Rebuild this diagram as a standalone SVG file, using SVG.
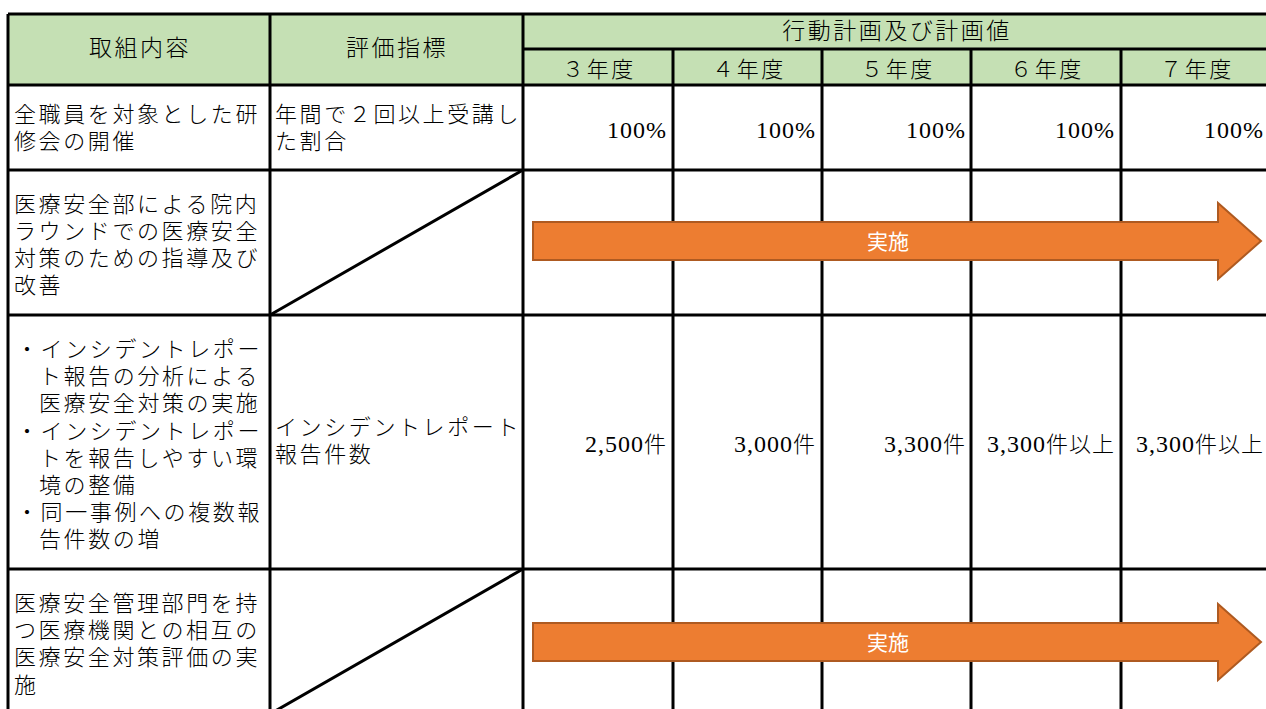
<svg xmlns="http://www.w3.org/2000/svg" width="1266" height="709" viewBox="0 0 1266 709">
<style>
.t{font-family:"Liberation Serif","Noto Sans CJK JP",serif;font-size:22px;font-weight:300;fill:#000;letter-spacing:2.6px}
.h{font-family:"Noto Sans CJK JP",sans-serif;font-size:23px;font-weight:300;fill:#000;letter-spacing:2.5px}
.c{text-anchor:middle}
.n{font-family:"Liberation Serif",serif;font-size:24px;font-weight:normal;fill:#000;text-anchor:end;letter-spacing:1px}
.n tspan{font-family:"Noto Sans CJK JP",sans-serif;font-size:22px;font-weight:300}
.g{stroke:#000;stroke-width:3;fill:none}
.ar{fill:#ED7D31;stroke:#AE5A21;stroke-width:2}
.at{font-family:"Noto Sans CJK JP",sans-serif;font-size:21px;fill:#fff;text-anchor:middle}
</style>
<rect width="1266" height="709" fill="#fff"/>
<g id="header">
<rect x="8" y="14" width="1260" height="71" fill="#C5E0B4"/>
<text class="h c" x="140" y="56">取組内容</text>
<text class="h c" x="397" y="56">評価指標</text>
<text class="h c" x="897" y="39">行動計画及び計画値</text>
<text class="t c" x="599" y="77">３年度</text>
<text class="t c" x="749" y="77">４年度</text>
<text class="t c" x="898" y="77">５年度</text>
<text class="t c" x="1047" y="77">６年度</text>
<text class="t c" x="1197" y="77">７年度</text>
</g>
<g id="row1">
<text class="t" x="14" y="122">全職員を対象とした研</text>
<text class="t" x="14" y="149">修会の開催</text>
<text class="t" x="275" y="122">年間で２回以上受講し</text>
<text class="t" x="275" y="149">た割合</text>
<text class="n" x="667" y="138">100%</text>
<text class="n" x="816" y="138">100%</text>
<text class="n" x="966" y="138">100%</text>
<text class="n" x="1115" y="138">100%</text>
<text class="n" x="1264" y="138">100%</text>
</g>
<g id="row2">
<text class="t" x="14" y="212">医療安全部による院内</text>
<text class="t" x="14" y="239">ラウンドでの医療安全</text>
<text class="t" x="14" y="266">対策のための指導及び</text>
<text class="t" x="14" y="293">改善</text>
</g>
<g id="row3">
<text class="t" x="16" y="357">・インシデントレポー</text>
<text class="t" x="39" y="384">ト報告の分析による</text>
<text class="t" x="39" y="411">医療安全対策の実施</text>
<text class="t" x="16" y="439">・インシデントレポー</text>
<text class="t" x="39" y="466">トを報告しやすい環</text>
<text class="t" x="39" y="493">境の整備</text>
<text class="t" x="16" y="520">・同一事例への複数報</text>
<text class="t" x="39" y="547">告件数の増</text>
<text class="t" x="275" y="435">インシデントレポート</text>
<text class="t" x="275" y="462">報告件数</text>
<text class="n" x="667" y="452">2,500<tspan>件</tspan></text>
<text class="n" x="816" y="452">3,000<tspan>件</tspan></text>
<text class="n" x="966" y="452">3,300<tspan>件</tspan></text>
<text class="n" x="1115" y="452">3,300<tspan>件以上</tspan></text>
<text class="n" x="1264" y="452">3,300<tspan>件以上</tspan></text>
</g>
<g id="row4">
<text class="t" x="14" y="611">医療安全管理部門を持</text>
<text class="t" x="14" y="638">つ医療機関との相互の</text>
<text class="t" x="14" y="665">医療安全対策評価の実</text>
<text class="t" x="14" y="693">施</text>
</g>
<g id="grid">
<path class="g" d="M8,14H1268M523,49H1268M8,85H1268M8,170H1268M8,315H1268M8,569H1268"/>
<path class="g" d="M8,14V712M270,14V712M523,14V712M673,49V712M822,49V712M971,49V712M1121,49V712"/>
<path class="g" d="M270,315L523,170M270,714L523,569"/>
</g>
<g id="arrow1">
<path class="ar" d="M533,222H1218V203L1261,241L1218,279V260H533Z"/>
<text class="at" x="888" y="249">実施</text>
</g>
<g id="arrow2">
<path class="ar" d="M533,623H1218V604L1261,642L1218,680V661H533Z"/>
<text class="at" x="888" y="650">実施</text>
</g>
</svg>
